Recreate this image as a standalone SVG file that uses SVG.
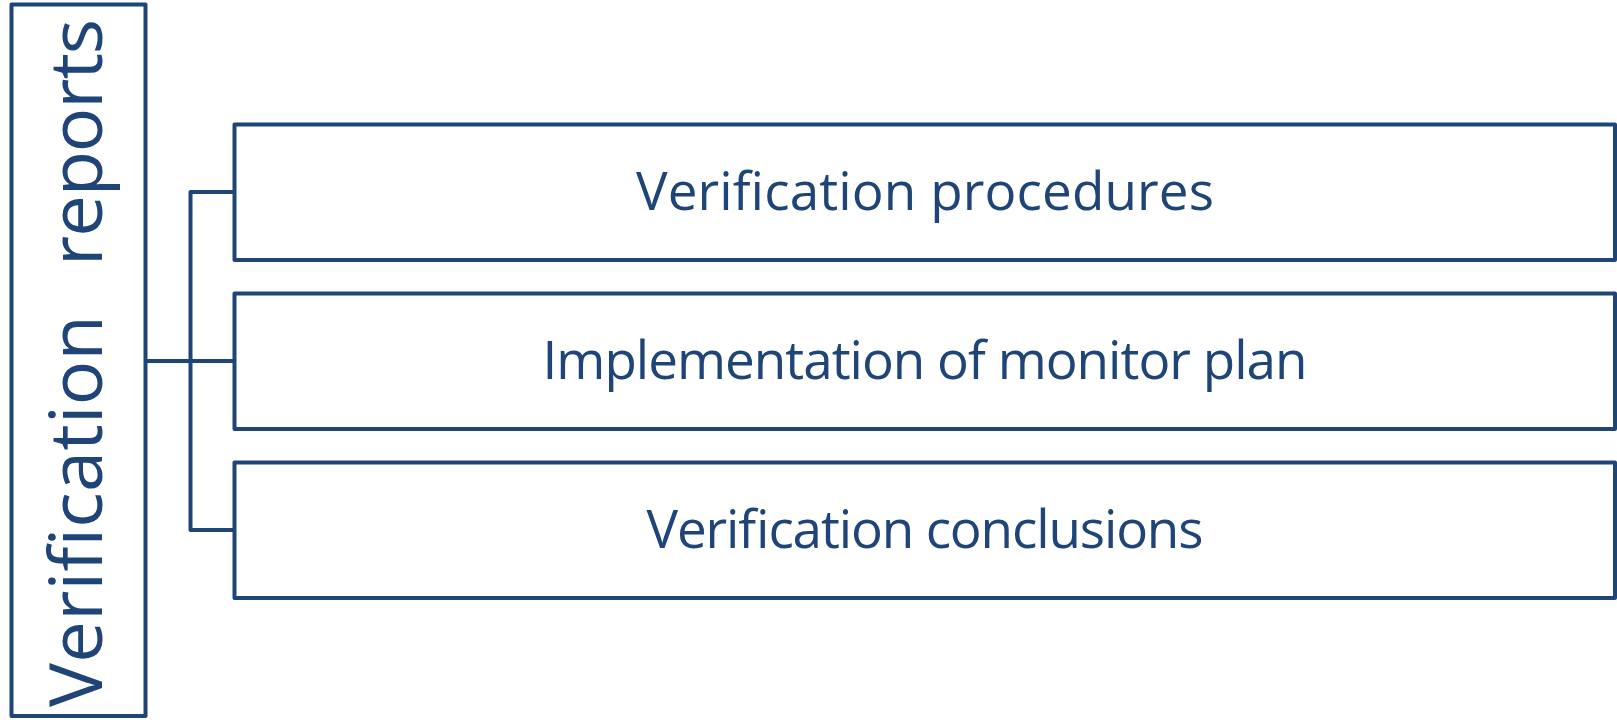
<svg xmlns="http://www.w3.org/2000/svg" width="1617" height="720" viewBox="0 0 1617 720">
<style>
.box{fill:#ffffff;stroke:#1F4477;stroke-width:4;stroke-linejoin:round}
.conn{fill:none;stroke:#1F4477;stroke-width:4;stroke-linejoin:round}
.t{font-family:"Open Sans","Liberation Sans",sans-serif;fill:#1F4477;text-anchor:middle}
.v{font-family:"Open Sans","Liberation Sans",sans-serif;fill:#1F4477;text-anchor:start;font-size:74px}
</style>
<rect width="1617" height="720" fill="#ffffff"/>
<g id="connectors">
<path class="conn" d="M145.5 361 H234.5"/>
<path class="conn" d="M234.5 192 H190.5 V530 H234.5"/>
</g>
<g id="root">
<rect class="box" x="11.5" y="4.5" width="134" height="711.5"/>
<g transform="rotate(-90)">
<text class="v" x="-707" y="102" textLength="392" lengthAdjust="spacing">Verification</text>
<text class="v" x="-266" y="102" textLength="247" lengthAdjust="spacing">reports</text>
</g>
</g>
<g id="n1">
<rect class="box" x="234.5" y="124.5" width="1380.5" height="135.5"/>
<text class="t" font-size="53" x="925" y="210" textLength="578" lengthAdjust="spacing">Verification procedures</text>
</g>
<g id="n2">
<rect class="box" x="234.5" y="293.5" width="1380.5" height="135.5"/>
<text class="t" font-size="53" x="925" y="379" textLength="765" lengthAdjust="spacing">Implementation of monitor plan</text>
</g>
<g id="n3">
<rect class="box" x="234.5" y="462.5" width="1380.5" height="135.5"/>
<text class="t" font-size="53" x="925" y="548" textLength="557" lengthAdjust="spacing">Verification conclusions</text>
</g>
</svg>
